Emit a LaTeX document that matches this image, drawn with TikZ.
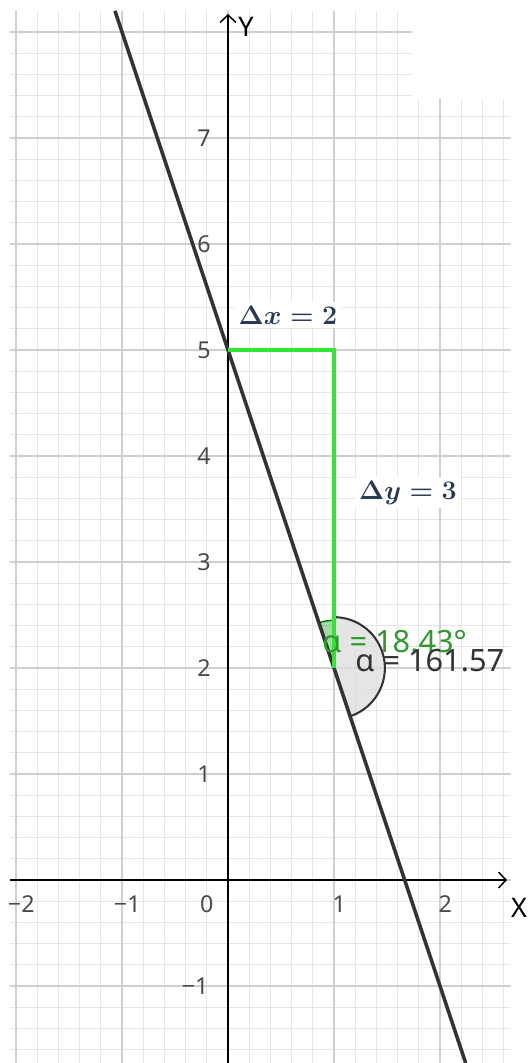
\documentclass[tikz,border=0pt]{standalone}
\usepackage{fontspec}
\setmainfont{Noto Sans}
\usetikzlibrary{arrows.meta}
\definecolor{gridmajor}{HTML}{CFCFCF}
\definecolor{gridminor}{HTML}{E6E6E6}
\definecolor{linegray}{HTML}{333333}
\definecolor{segreen}{HTML}{33E633}
\definecolor{txtgreen}{HTML}{2E9A2E}
\definecolor{ticklabel}{HTML}{4A4A4A}
\definecolor{deltacol}{HTML}{2A3A55}
\begin{document}
\begin{tikzpicture}[x=2cm,y=2cm,
  minorline/.style={draw=gridminor,line width=0.6pt},
  majorline/.style={draw=gridmajor,line width=1pt},
  axisline/.style={draw=black,line width=0.8pt,-{Straight Barb[length=4pt,width=8.5pt]}},
  mainline/.style={draw=linegray,line width=1.9pt},
  greenseg/.style={draw=segreen,line width=1.8pt,line join=miter},
  ticklbl/.style={text=ticklabel,inner sep=0pt,font=\fontsize{12.5}{14}\selectfont},
  axislbl/.style={text=black,inner sep=0pt,font=\fontsize{14.5}{16}\selectfont},
  anglelbl/.style={inner sep=0pt,anchor=base west,font=\fontsize{16.5}{18}\selectfont},
  deltalbl/.style={text=deltacol,fill=white,inner sep=2pt,anchor=base,font=\fontsize{13.5}{16}\selectfont\boldmath}]
\useasboundingbox[fill=white] (-2.151,-1.726) rectangle (2.849,8.302);
% grid
\begin{scope}
  \clip (-2.057,-1.726) -- (2.665,-1.726) -- (2.665,7.37) -- (1.736,7.37) -- (1.736,8.2) -- (-2.057,8.2) -- cycle;
  \foreach \i in {-11,...,14} \draw[minorline] (\i/5,-1.8) -- (\i/5,8.3);
  \foreach \j in {-9,...,42} \draw[minorline] (-2.2,\j/5) -- (2.8,\j/5);
  \foreach \i in {-2,...,2} \draw[majorline] (\i,-1.8) -- (\i,8.3);
  \foreach \j in {-1,...,8} \draw[majorline] (-2.2,\j) -- (2.8,\j);
\end{scope}
% axes
\coordinate (xs) at (-2.057,0);
\coordinate (xe) at (2.632,0);
\coordinate (ys) at (0,-1.726);
\coordinate (ye) at (0,8.17);
\draw[axisline] (xs) -- (xe);
\draw[axisline] (ys) -- (ye);
\node[axislbl] (Xl) at (2.745,-0.265) {X};
\node[axislbl] (Yl) at (0.17,8.045) {Y};
% tick labels
\foreach \v/\t in {-2/−2,-1/−1,1/1,2/2} \node[ticklbl] (xt\v) at (\v+0.05,-0.23) {\t};
\node[ticklbl] (xt0) at (-0.2,-0.23) {0};
\foreach \v in {1,...,7} \node[ticklbl,anchor=east] (yt\v) at (-0.16,\v) {\v};
\node[ticklbl,anchor=east] (ytm1) at (-0.18,-1) {−1};
% angles
\coordinate (P) at (1,2);
\coordinate (Q) at (1,5);
\coordinate (R) at (0,5);
\fill[fill=gray!25,opacity=0.8] (P) -- ++(-71.565:0.48) arc[start angle=-71.565,end angle=90,radius=0.48] -- cycle;
\draw[draw=linegray,line width=1.1pt] (P) ++(-71.565:0.48) arc[start angle=-71.565,end angle=90,radius=0.48];
\fill[fill=green!60!black,opacity=0.35] (P) -- ++(90:0.45) arc[start angle=90,end angle=108.435,radius=0.45] -- cycle;
\draw[draw=green!50!black,line width=0.8pt] (P) ++(90:0.45) arc[start angle=90,end angle=108.435,radius=0.45];
% main line
\coordinate (L1) at (-1.0667,8.2);
\coordinate (L2) at (2.242,-1.726);
\draw[mainline] (L1) -- (L2);
% green segments
\draw[greenseg] (R) -- (Q) -- (P);
% labels
\node[deltalbl] (dx) at (0.566,5.245) {$\Delta x = 2$};
\node[deltalbl] (dy) at (1.698,3.594) {$\Delta y = 3$};
\node[anglelbl,text=txtgreen] (beta) at (0.887,2.151) {α = 18.43°};
\node[anglelbl,text=linegray] (alpha) at (1.198,1.972) {α = 161.57};
\end{tikzpicture}
\end{document}
